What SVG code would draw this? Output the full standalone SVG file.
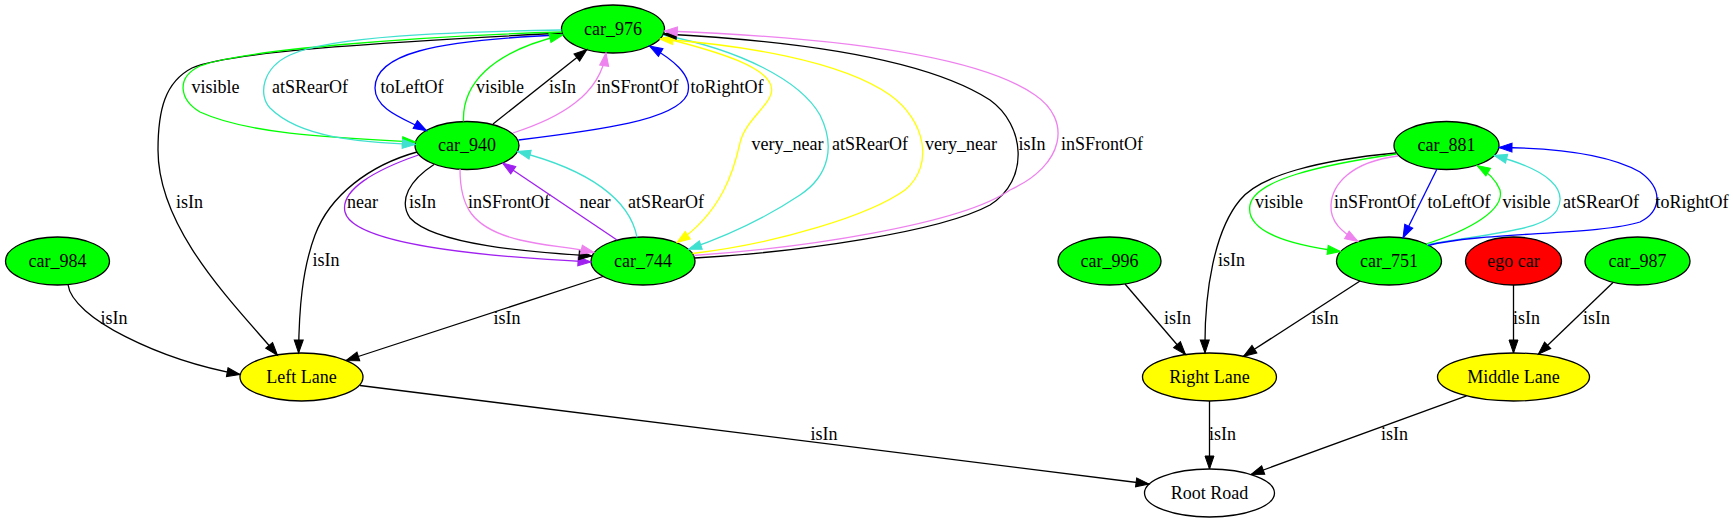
<svg xmlns="http://www.w3.org/2000/svg" width="1733" height="523" viewBox="0 0 1733 523">
<style>
text{font-family:"Liberation Serif","Times New Roman",serif;font-size:18px;text-anchor:middle;fill:#000}
.n ellipse{stroke:#000;stroke-width:1.3}
.g{fill:#00ff00}.y{fill:#ffff00}.r{fill:#ff0000}.w{fill:#ffffff}
.e{fill:none;stroke-width:1.3}
.k{stroke:#000}.gr{stroke:#00ff00}.tq{stroke:#40e0d0}.bl{stroke:#0000ff}.vi{stroke:#ee82ee}.ye{stroke:#ffff00}.pu{stroke:#a020f0}
</style>
<defs>
<marker id="mk" viewBox="0 0 13 9" refX="13" refY="4.5" markerWidth="13" markerHeight="9" markerUnits="userSpaceOnUse" orient="auto" overflow="visible"><path d="M0,0L13,4.5L0,9z" fill="#000" stroke="#000" stroke-width="1"/></marker>
<marker id="mg" viewBox="0 0 13 9" refX="13" refY="4.5" markerWidth="13" markerHeight="9" markerUnits="userSpaceOnUse" orient="auto" overflow="visible"><path d="M0,0L13,4.5L0,9z" fill="#00ff00" stroke="#00ff00" stroke-width="1"/></marker>
<marker id="mt" viewBox="0 0 13 9" refX="13" refY="4.5" markerWidth="13" markerHeight="9" markerUnits="userSpaceOnUse" orient="auto" overflow="visible"><path d="M0,0L13,4.5L0,9z" fill="#40e0d0" stroke="#40e0d0" stroke-width="1"/></marker>
<marker id="mb" viewBox="0 0 13 9" refX="13" refY="4.5" markerWidth="13" markerHeight="9" markerUnits="userSpaceOnUse" orient="auto" overflow="visible"><path d="M0,0L13,4.5L0,9z" fill="#0000ff" stroke="#0000ff" stroke-width="1"/></marker>
<marker id="mv" viewBox="0 0 13 9" refX="13" refY="4.5" markerWidth="13" markerHeight="9" markerUnits="userSpaceOnUse" orient="auto" overflow="visible"><path d="M0,0L13,4.5L0,9z" fill="#ee82ee" stroke="#ee82ee" stroke-width="1"/></marker>
<marker id="my" viewBox="0 0 13 9" refX="13" refY="4.5" markerWidth="13" markerHeight="9" markerUnits="userSpaceOnUse" orient="auto" overflow="visible"><path d="M0,0L13,4.5L0,9z" fill="#ffff00" stroke="#ffff00" stroke-width="1"/></marker>
<marker id="mp" viewBox="0 0 13 9" refX="13" refY="4.5" markerWidth="13" markerHeight="9" markerUnits="userSpaceOnUse" orient="auto" overflow="visible"><path d="M0,0L13,4.5L0,9z" fill="#a020f0" stroke="#a020f0" stroke-width="1"/></marker>
</defs>
<rect width="1733" height="523" fill="#fff"/>
<g id="nodes">
<g id="node-car_976" class="n"><ellipse class="g" cx="613" cy="29" rx="51.5" ry="24"/><text x="613" y="34.5">car_976</text></g>
<g id="node-car_940" class="n"><ellipse class="g" cx="467" cy="145.5" rx="52" ry="24"/><text x="467" y="151">car_940</text></g>
<g id="node-car_744" class="n"><ellipse class="g" cx="643" cy="261" rx="52" ry="24"/><text x="643" y="266.5">car_744</text></g>
<g id="node-car_984" class="n"><ellipse class="g" cx="57.5" cy="261" rx="52" ry="24"/><text x="57.5" y="266.5">car_984</text></g>
<g id="node-left_lane" class="n"><ellipse class="y" cx="301.5" cy="377" rx="61.5" ry="24"/><text x="301.5" y="382.5">Left Lane</text></g>
<g id="node-car_881" class="n"><ellipse class="g" cx="1446.5" cy="145.5" rx="52.5" ry="24"/><text x="1446.5" y="151">car_881</text></g>
<g id="node-car_996" class="n"><ellipse class="g" cx="1109.5" cy="261" rx="51.5" ry="24"/><text x="1109.5" y="266.5">car_996</text></g>
<g id="node-car_751" class="n"><ellipse class="g" cx="1389" cy="261" rx="52.5" ry="24"/><text x="1389" y="266.5">car_751</text></g>
<g id="node-ego_car" class="n"><ellipse class="r" cx="1513.5" cy="261" rx="48" ry="24"/><text x="1513.5" y="266.5">ego car</text></g>
<g id="node-car_987" class="n"><ellipse class="g" cx="1637.5" cy="261" rx="52.5" ry="24"/><text x="1637.5" y="266.5">car_987</text></g>
<g id="node-right_lane" class="n"><ellipse class="y" cx="1209.5" cy="377" rx="67" ry="24"/><text x="1209.5" y="382.5">Right Lane</text></g>
<g id="node-middle_lane" class="n"><ellipse class="y" cx="1513.5" cy="377" rx="76" ry="24"/><text x="1513.5" y="382.5">Middle Lane</text></g>
<g id="node-root_road" class="n"><ellipse class="w" cx="1209.5" cy="493" rx="65" ry="24"/><text x="1209.5" y="498.5">Root Road</text></g>
</g>
<g id="edges">
<g id="e1"><path class="e k" marker-end="url(#mk)" d="M562,33C430,40 230,50 192,68C165,82 158,110 158,150C158,230 235,305 277.5,355.3"/><text x="189.5" y="207.5">isIn</text></g>
<g id="e2"><path class="e gr" marker-end="url(#mg)" d="M562,32C420,36 240,50 200,66C175,78 180,100 200,112C250,135 340,138 415.5,142"/><text x="215.5" y="92.5">visible</text></g>
<g id="e3"><path class="e tq" marker-end="url(#mt)" d="M561.5,30C450,32 330,36 290,55C262,68 258,95 270,108C300,138 360,142 415.3,144.5"/><text x="310" y="92.5">atSRearOf</text></g>
<g id="e4"><path class="e bl" marker-end="url(#mb)" d="M563,35C430,40 375,55 375,88C375,110 405,119 426.7,130.7"/><text x="412" y="92.5">toLeftOf</text></g>
<g id="e5"><path class="e gr" marker-end="url(#mg)" d="M463.5,121.5C462,85 490,52 562.6,35"/><text x="500" y="92.5">visible</text></g>
<g id="e6"><path class="e k" marker-end="url(#mk)" d="M493,124L587,49.5"/><text x="562.5" y="92.5">isIn</text></g>
<g id="e7"><path class="e vi" marker-end="url(#mv)" d="M513,133C560,118 600,95 606,52.8"/><text x="637.5" y="92.5">inSFrontOf</text></g>
<g id="e8"><path class="e bl" marker-end="url(#mb)" d="M518.5,140C600,130 675,120 687,95C695,75 670,58 649.5,46"/><text x="727" y="92.5">toRightOf</text></g>
<g id="e9"><path class="e ye" marker-end="url(#my)" d="M662,37.5C720,52 772,68 771.7,90C771.4,105 745,120 740,143C734,170 722,212 677,242.5"/><text x="787.5" y="149.5">very_near</text></g>
<g id="e10"><path class="e tq" marker-end="url(#mt)" d="M663,35C740,50 800,80 820,115C835,145 830,175 800,195C770,215 730,235 688.5,249.2"/><text x="870" y="149.5">atSRearOf</text></g>
<g id="e11"><path class="e ye" marker-end="url(#my)" d="M692.4,253.5C780,243 870,215 905,190C935,165 925,120 890,95C840,60 740,45 660,39"/><text x="961" y="149.5">very_near</text></g>
<g id="e12"><path class="e k" marker-end="url(#mk)" d="M694.6,258C800,252 940,232 990,205C1030,180 1025,125 990,100C920,55 780,40 663.4,34"/><text x="1032" y="149.5">isIn</text></g>
<g id="e13"><path class="e vi" marker-end="url(#mv)" d="M693.6,255.5C800,248 960,225 1010,190C1065,165 1072,120 1035,95C970,50 800,36 664.3,31"/><text x="1102" y="149.5">inSFrontOf</text></g>
<g id="e14"><path class="e pu" marker-end="url(#mp)" d="M418.5,155C375,170 340,190 345,212C352,240 450,255 591,262"/><text x="362.5" y="207.5">near</text></g>
<g id="e15"><path class="e k" marker-end="url(#mk)" d="M417,152C370,165 330,195 315,235C302,270 299,310 298.6,353"/><text x="326" y="265.5">isIn</text></g>
<g id="e16"><path class="e k" marker-end="url(#mk)" d="M434,164.5C410,180 398,200 410,218C435,245 530,252 592,256"/><text x="422.5" y="207.5">isIn</text></g>
<g id="e17"><path class="e vi" marker-end="url(#mv)" d="M460,169C460,205 470,228 520,240C545,246 570,247 594,252.5"/><text x="509" y="207.5">inSFrontOf</text></g>
<g id="e18"><path class="e pu" marker-end="url(#mp)" d="M617,240L502.5,163"/><text x="595" y="207.5">near</text></g>
<g id="e19"><path class="e tq" marker-end="url(#mt)" d="M637,237.3C630,200 590,170 517.5,151.5"/><text x="666" y="207.5">atSRearOf</text></g>
<g id="e20"><path class="e k" marker-end="url(#mk)" d="M603,276.5L346,360.5"/><text x="507" y="323.5">isIn</text></g>
<g id="e21"><path class="e k" marker-end="url(#mk)" d="M68,284.5C72,318 160,360 240,374.5"/><text x="114" y="323.5">isIn</text></g>
<g id="e22"><path class="e k" marker-end="url(#mk)" d="M360,385.5L1149,484"/><text x="824" y="439.5">isIn</text></g>
<g id="e23"><path class="e k" marker-end="url(#mk)" d="M1396,153C1320,160 1260,175 1240,200C1215,230 1204,290 1205,353"/><text x="1231.5" y="265.5">isIn</text></g>
<g id="e24"><path class="e gr" marker-end="url(#mg)" d="M1396.5,154C1320,165 1255,180 1250,205C1245,232 1290,245 1340.5,251.5"/><text x="1279" y="207.5">visible</text></g>
<g id="e25"><path class="e vi" marker-end="url(#mv)" d="M1398,156C1350,162 1332,185 1331,205C1330,222 1342,232 1358,241.5"/><text x="1375" y="207.5">inSFrontOf</text></g>
<g id="e26"><path class="e bl" marker-end="url(#mb)" d="M1437,169L1403,237.8"/><text x="1459" y="207.5">toLeftOf</text></g>
<g id="e27"><path class="e gr" marker-end="url(#mg)" d="M1426,244C1470,230 1505,210 1500,190C1496,180 1488,172 1477,165.5"/><text x="1526.5" y="207.5">visible</text></g>
<g id="e28"><path class="e tq" marker-end="url(#mt)" d="M1427,244.5C1500,232 1545,230 1557,210C1568,190 1550,170 1494,155.5"/><text x="1601" y="207.5">atSRearOf</text></g>
<g id="e29"><path class="e bl" marker-end="url(#mb)" d="M1428,245.5C1480,232 1600,235 1640,222C1660,212 1665,190 1640,172C1610,155 1560,148 1499,147.5"/><text x="1692" y="207.5">toRightOf</text></g>
<g id="e30"><path class="e k" marker-end="url(#mk)" d="M1125,284L1185.5,354.5"/><text x="1177.5" y="323.5">isIn</text></g>
<g id="e31"><path class="e k" marker-end="url(#mk)" d="M1360,281L1243.5,356.3"/><text x="1325" y="323.5">isIn</text></g>
<g id="e32"><path class="e k" marker-end="url(#mk)" d="M1513.5,285L1513.5,353"/><text x="1526.5" y="323.5">isIn</text></g>
<g id="e33"><path class="e k" marker-end="url(#mk)" d="M1613,282.5L1538.3,354.3"/><text x="1596.5" y="323.5">isIn</text></g>
<g id="e34"><path class="e k" marker-end="url(#mk)" d="M1209.5,401L1209.5,469"/><text x="1222.5" y="439.5">isIn</text></g>
<g id="e35"><path class="e k" marker-end="url(#mk)" d="M1466.5,395.8L1251,474.5"/><text x="1394.5" y="439.5">isIn</text></g>
</g>
</svg>
